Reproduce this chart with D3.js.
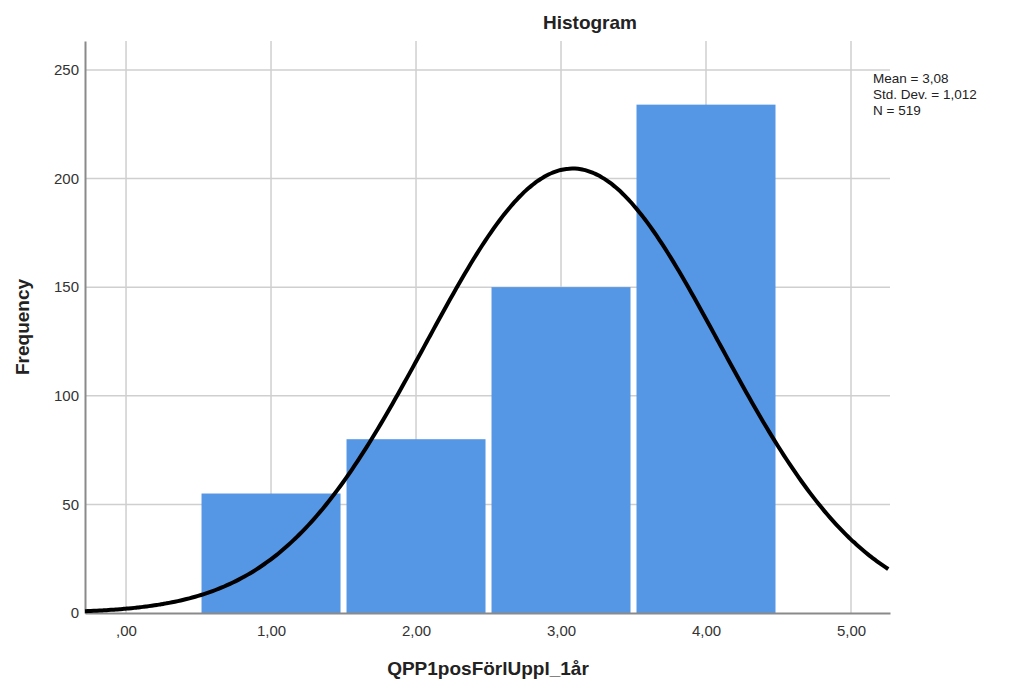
<!DOCTYPE html>
<meta charset="utf-8">
<script src="https://cdn.jsdelivr.net/npm/d3@7"></script>
<style>
body { margin: 0; background: #fff; }
text { font-family: Arial, "Liberation Sans", sans-serif; fill: #222; }
.grid line { stroke: #cfcfcf; stroke-width: 1.5px; }
.tick text { font-size: 15px; fill: #333; }
</style>
<body>
<script>

// histogram bins (midpoints) and frequencies
var binMids = [1, 2, 3, 4];
var counts = [55, 80, 150, 234];
var xTicks = [0, 1, 2, 3, 4, 5];
var yTicks = [0, 50, 100, 150, 200, 250];
var statLines = ["Mean = 3,08", "Std. Dev. = 1,012", "N = 519"];
var mean = 3.08, sd = 1.012, n = 519, binWidth = 1;

var width = 1020, height = 684;
var plotLeft = 85, plotRight = 890, plotTop = 41, plotBottom = 613;

var svg = d3.select("body").append("svg")
    .attr("width", width)
    .attr("height", height);

var x = d3.scaleLinear().domain([-0.283, 5.269]).range([plotLeft, plotRight]);
var y = d3.scaleLinear().domain([0, 263.3]).range([plotBottom, plotTop]);

var fmt = function(v) {
  return v === 0 ? ",00" : v.toFixed(2).replace(".", ",");
};

// gridlines
var grid = svg.append("g").attr("class", "grid");
grid.selectAll(".vg").data(xTicks).enter().append("line")
    .attr("x1", function(d) { return x(d); })
    .attr("x2", function(d) { return x(d); })
    .attr("y1", plotTop).attr("y2", plotBottom);
grid.selectAll(".hg").data(yTicks.slice(1)).enter().append("line")
    .attr("x1", plotLeft).attr("x2", plotRight)
    .attr("y1", function(d) { return y(d); })
    .attr("y2", function(d) { return y(d); });

// bars
svg.append("g").selectAll("rect")
    .data(binMids)
    .enter().append("rect")
    .attr("x", function(d) { return x(d - binWidth / 2) + 3; })
    .attr("width", function(d) { return x(d + binWidth / 2) - x(d - binWidth / 2) - 6; })
    .attr("y", function(d, i) { return y(counts[i]); })
    .attr("height", function(d, i) { return y(0) - y(counts[i]); })
    .style("fill", "#5596e5");

// axes
var xAxis = svg.append("g")
    .attr("transform", "translate(0," + plotBottom + ")")
    .call(d3.axisBottom(x).tickValues(xTicks).tickFormat(fmt).tickSize(0).tickPadding(12));
xAxis.select(".domain").attr("stroke", "#8a8a8a").attr("stroke-width", 2);

var yAxis = svg.append("g")
    .attr("transform", "translate(" + plotLeft + ",0)")
    .call(d3.axisLeft(y).tickValues(yTicks).tickSize(0).tickPadding(6));
yAxis.select(".domain").attr("stroke", "#8a8a8a").attr("stroke-width", 2);

// fitted normal curve from the reported statistics
var xs = d3.range(-0.283, 5.27, 0.02);
var curve = d3.line()
    .x(function(d) { return x(d); })
    .y(function(d) {
      var z = (d - mean) / sd;
      return y(n * binWidth * Math.exp(-0.5 * z * z) / (sd * Math.sqrt(2 * Math.PI)));
    })
    .curve(d3.curveBasis);
svg.append("path")
    .datum(xs)
    .attr("d", curve)
    .style("fill", "none")
    .style("stroke", "#000")
    .style("stroke-width", 4);

// title and axis labels
svg.append("text")
    .attr("x", 590).attr("y", 29)
    .attr("text-anchor", "middle")
    .style("font-size", "19px").style("font-weight", "bold")
    .text("Histogram");

svg.append("text")
    .attr("transform", "translate(29," + 327 + ") rotate(-90)")
    .attr("text-anchor", "middle")
    .style("font-size", "19px").style("font-weight", "bold")
    .text("Frequency");

svg.append("text")
    .attr("x", 488).attr("y", 675)
    .attr("text-anchor", "middle")
    .style("font-size", "19px").style("font-weight", "bold")
    .text("QPP1posFörlUppl_1år");

// stats box
svg.append("g").selectAll("text")
    .data(statLines)
    .enter().append("text")
    .attr("x", 873)
    .attr("y", function(d, i) { return 83 + i * 16; })
    .style("font-size", "13.5px")
    .text(function(d) { return d; });

</script>
</body>
